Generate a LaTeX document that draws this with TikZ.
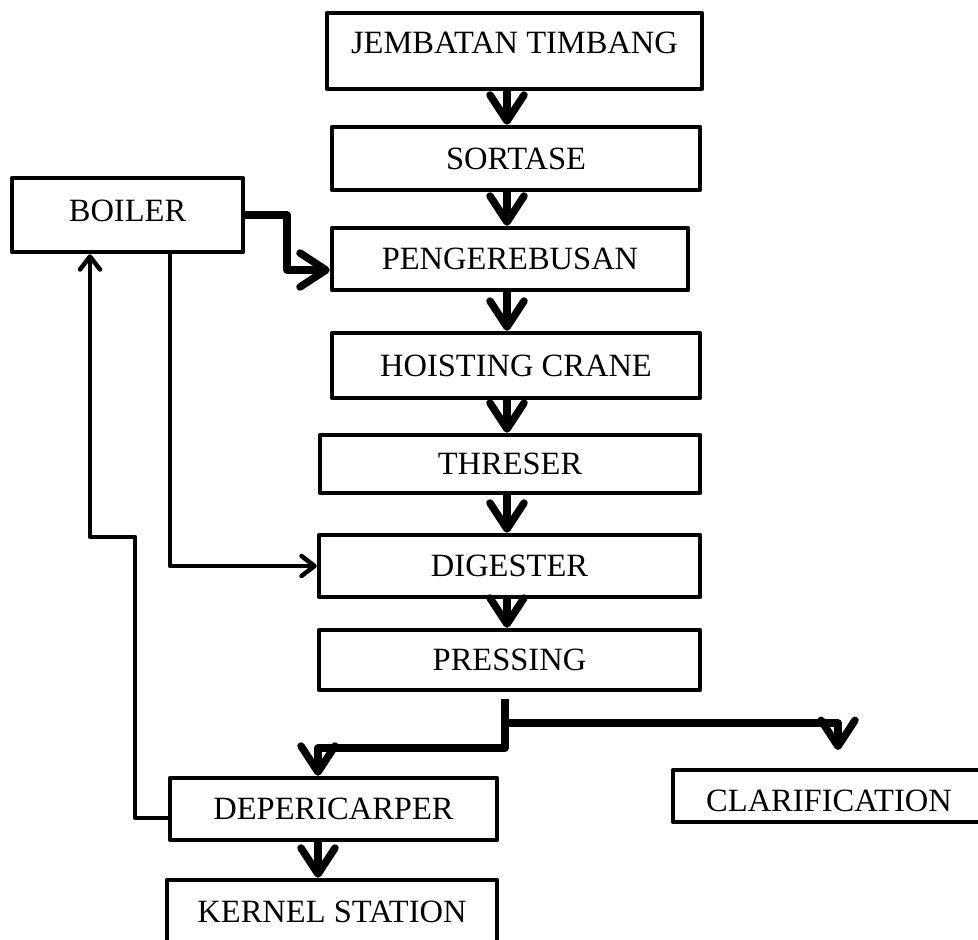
\documentclass[tikz,border=0pt]{standalone}
\usepackage{fontspec}
\setmainfont{Liberation Serif}
\usetikzlibrary{arrows.meta,positioning,calc}

\tikzset{
  box/.style={draw,line width=4.5pt,line join=round,rectangle,inner sep=0pt,
    font=\fontsize{32.5}{38}\selectfont,text height=21pt,text depth=0pt},
  down/.style={line width=7.5pt,line join=round,-{Straight Barb[length=26pt,width=34pt,round]}},
  feed/.style={line width=4.5pt,line join=round,-{Straight Barb[length=13pt,width=20pt,round]}},
}

\begin{document}
\begin{tikzpicture}[x=1pt,y=-1pt]
\useasboundingbox (0,0) rectangle (978,940);
\clip (0,0) rectangle (978,940);
\node[box,minimum width=375,minimum height=76,text depth=16pt] (jt) at (514.5,51) {JEMBATAN TIMBANG};
\node[box,minimum width=368,minimum height=63] (sortase) at (516,158.5) {SORTASE};
\node[box,minimum width=356,minimum height=62] (rebus) at (510,259) {PENGEREBUSAN};
\node[box,minimum width=368,minimum height=65] (hoist) at (516,365.5) {HOISTING CRANE};
\node[box,minimum width=380,minimum height=58] (thres) at (510,464) {THRESER};
\node[box,minimum width=381,minimum height=62] (dig) at (509.5,566) {DIGESTER};
\node[box,minimum width=381,minimum height=60] (press) at (509.5,660) {PRESSING};
\node[box,minimum width=231,minimum height=74,text depth=8pt] (boiler) at (127.5,215) {BOILER};
\node[box,minimum width=327,minimum height=62] (deper) at (333.5,809) {DEPERICARPER};
\node[box,minimum width=330,minimum height=64] (kernel) at (332,912) {KERNEL STATION};
\node[box,minimum width=312,minimum height=52,text height=31pt] (clar) at (829,796) {CLARIFICATION};

\coordinate (spine) at (507,0);
\coordinate (split) at (505,723);
\coordinate (lsplit) at (505,748);
\coordinate (clartip) at (838,750);
\coordinate (kx) at (318,0);
\coordinate (bend) at (287,240);
\coordinate (fb1) at (135,537);
\coordinate (fbx) at (90,0);
\coordinate (stx) at (170,0);

\draw[down] (jt.south -| spine) -- (sortase.north -| spine);
\draw[down] (sortase.south -| spine) -- (rebus.north -| spine);
\draw[down] (rebus.south -| spine) -- (hoist.north -| spine);
\draw[down] (hoist.south -| spine) -- (thres.north -| spine);
\draw[down] (thres.south -| spine) -- (dig.north -| spine);
\draw[down] (dig.south -| spine) -- (press.north -| spine);
\draw[down,shorten <=7pt] (press.south -| split) -- (lsplit) -| (deper.north -| kx);
\draw[down] (split) -| (clartip);
\draw[down] (deper.south -| kx) -- (kernel.north -| kx);
\draw[down] (boiler.east) -| (bend) |- ([yshift=-11pt]rebus.west);
\draw[feed] (boiler.south -| stx) |- (dig.west);
\draw[feed] ([yshift=-9pt]deper.west) -| (fb1) -| (boiler.south -| fbx);
\end{tikzpicture}
\end{document}
